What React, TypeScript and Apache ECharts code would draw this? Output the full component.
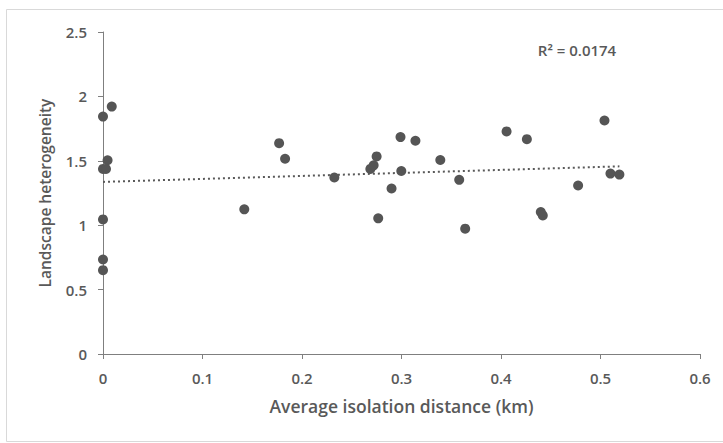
import React, { useEffect, useRef } from "react";
import * as echarts from "echarts";

const xValues = [0, 0.0088, 0.0046, 0, 0.003, 0, 0, 0, 0.142, 0.177, 0.183, 0.2325, 0.2687, 0.272, 0.275, 0.2766, 0.29, 0.299, 0.2998, 0.314, 0.339, 0.358, 0.364, 0.4056, 0.426, 0.44, 0.442, 0.4775, 0.504, 0.51, 0.519];
const yValues = [1.843, 1.921, 1.504, 1.437, 1.437, 1.045, 0.734, 0.651, 1.123, 1.637, 1.516, 1.37, 1.437, 1.465, 1.534, 1.053, 1.285, 1.684, 1.421, 1.656, 1.506, 1.352, 0.973, 1.728, 1.668, 1.102, 1.076, 1.308, 1.813, 1.401, 1.393];
const trendX = [0, 0.519];
const trendY = [1.336, 1.457];
const xTicks = [0, 0.1, 0.2, 0.3, 0.4, 0.5, 0.6];
const yTicks = [0, 0.5, 1, 1.5, 2, 2.5];
const rSquaredLabel = "R² = 0.0174";

const FONT = "'Open Sans', 'Liberation Sans', sans-serif";
const GRAY = "#595959";

export default function App() {
  const ref = useRef<HTMLDivElement>(null);
  useEffect(() => {
    document.body.style.margin = "0";
    if (!ref.current) return;
    const chart = echarts.init(ref.current, undefined, { renderer: "svg" });
    chart.setOption({
      animation: false,
      backgroundColor: "#ffffff",
      grid: { left: 103, right: 23, top: 32, bottom: 89, containLabel: false },
      xAxis: {
        type: "value",
        min: xTicks[0],
        max: xTicks[xTicks.length - 1],
        interval: 0.1,
        name: "Average isolation distance (km)",
        nameLocation: "middle",
        nameGap: 43,
        nameTextStyle: { color: GRAY, fontFamily: FONT, fontSize: 17.5, fontWeight: 600 },
        axisLine: { show: true, lineStyle: { color: "#7f7f7f", width: 1 } },
        axisTick: { show: true, length: 5, lineStyle: { color: "#7f7f7f" } },
        axisLabel: { color: GRAY, fontFamily: FONT, fontSize: 15, fontWeight: 600, margin: 16, formatter: (v: number) => String(Math.round(v * 10) / 10) },
        splitLine: { show: false },
      },
      yAxis: {
        type: "value",
        min: yTicks[0],
        max: yTicks[yTicks.length - 1],
        interval: 0.5,
        name: "Landscape heterogeneity",
        nameLocation: "middle",
        nameGap: 50,
        nameTextStyle: { color: GRAY, fontFamily: FONT, fontSize: 15.5, fontWeight: 600 },
        axisLine: { show: true, lineStyle: { color: "#7f7f7f", width: 1 } },
        axisTick: { show: true, length: 5, lineStyle: { color: "#7f7f7f" } },
        axisLabel: { color: GRAY, fontFamily: FONT, fontSize: 15, fontWeight: 600, margin: 16 },
        splitLine: { show: false },
      },
      graphic: [
        {
          type: "rect",
          shape: { x: 6.5, y: 9.5, width: 730, height: 432 },
          style: { fill: "none", stroke: "#d9d9d9", lineWidth: 1 },
          silent: true,
          z: -1,
        },
        {
          type: "text",
          x: 577,
          y: 50,
          style: { text: rSquaredLabel, fill: GRAY, font: `600 15px ${FONT}`, align: "center", verticalAlign: "middle" },
        },
      ],
      series: [
        {
          type: "line",
          data: trendX.map((x, i) => [x, trendY[i]]),
          symbol: "none",
          lineStyle: { color: "#595959", width: 2, type: [2, 3] },
          z: 1,
        },
        {
          type: "scatter",
          data: xValues.map((x, i) => [x, yValues[i]]),
          symbol: "circle",
          symbolSize: 10,
          itemStyle: { color: "#555555", opacity: 1 },
          z: 2,
        },
      ],
    });
    return () => chart.dispose();
  }, []);
  return <div ref={ref} style={{ width: 723, height: 443 }} />;
}
